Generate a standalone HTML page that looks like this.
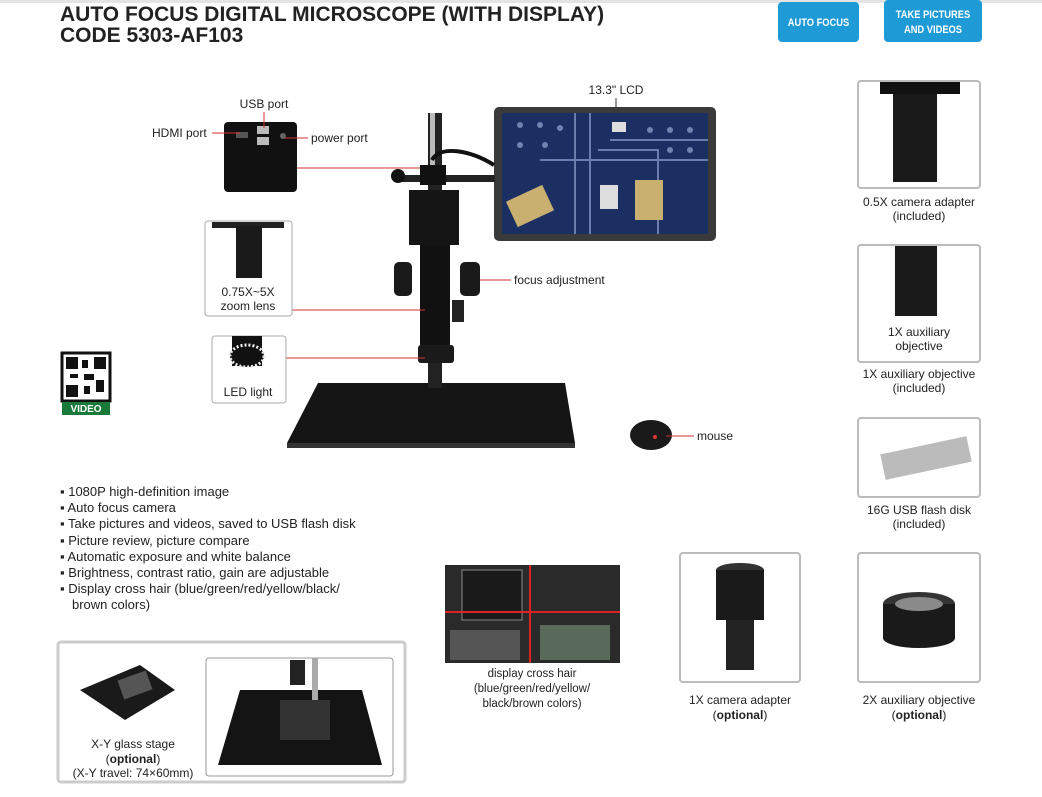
<!DOCTYPE html>
<html><head><meta charset="utf-8"><style>
html,body{margin:0;padding:0;background:#fff}
svg{display:block}
text{font-family:"Liberation Sans",Arial,sans-serif;fill:#222}
</style></head><body>
<svg width="1042" height="797" viewBox="0 0 1042 797" xmlns="http://www.w3.org/2000/svg">
<rect width="1042" height="797" fill="#fff"/>
<rect x="0" y="0" width="1042" height="3" fill="#e4e4e4"/>
<!-- title -->
<text x="60" y="21" font-size="21" font-weight="bold" fill="#1a1a1a">AUTO FOCUS DIGITAL MICROSCOPE (WITH DISPLAY)</text>
<text x="60" y="42" font-size="21" font-weight="bold" fill="#1a1a1a">CODE 5303-AF103</text>
<rect x="778" y="2" width="81" height="40" rx="4" fill="#1e9ad6"/>
<text x="818.5" y="26" font-size="11" font-weight="bold" style="fill:#fff" text-anchor="middle" transform="scale(0.85,1)" transform-origin="818.5 26">AUTO FOCUS</text>
<rect x="884" y="0" width="98" height="42" rx="4" fill="#1e9ad6"/>
<text x="933" y="18" font-size="11" font-weight="bold" style="fill:#fff" text-anchor="middle" transform="scale(0.85,1)" transform-origin="933 18">TAKE PICTURES</text>
<text x="933" y="33" font-size="11" font-weight="bold" style="fill:#fff" text-anchor="middle" transform="scale(0.85,1)" transform-origin="933 33">AND VIDEOS</text>

<!-- camera back -->
<rect x="224" y="122" width="73" height="70" rx="4" fill="#111"/>
<rect x="236" y="132" width="12" height="6" fill="#555"/>
<rect x="257" y="126" width="12" height="8" fill="#bbb"/><rect x="257" y="137" width="12" height="8" fill="#bbb"/>
<circle cx="283" cy="136" r="3" fill="#666"/>
<text x="264" y="108" font-size="12" text-anchor="middle">USB port</text>
<line x1="264" y1="112" x2="264" y2="128" stroke="#c33"/>
<text x="152" y="137" font-size="12">HDMI port</text>
<line x1="212" y1="133" x2="240" y2="133" stroke="#c33"/>
<text x="311" y="142" font-size="12">power port</text>
<line x1="285" y1="138" x2="308" y2="138" stroke="#c33"/>
<line x1="297" y1="168" x2="425" y2="168" stroke="#c33"/>

<!-- LCD -->
<text x="616" y="94" font-size="12" text-anchor="middle">13.3" LCD</text>
<line x1="616" y1="98" x2="616" y2="125" stroke="#333"/>
<rect x="494" y="107" width="222" height="134" rx="5" fill="#3a3a3a"/>
<rect x="502" y="113" width="206" height="121" fill="#1c2f63"/>
<g fill="none" stroke="#8aa0cc" stroke-width="2" opacity=".7">
<path d="M575 113 v121 M590 113 v121 M540 160 h168 M610 140 h98 M598 150 h60 v84"/>
</g>
<g fill="#6f84b0"><circle cx="520" cy="125" r="3"/><circle cx="540" cy="125" r="3"/><circle cx="560" cy="128" r="3"/><circle cx="520" cy="145" r="3"/><circle cx="545" cy="145" r="3"/><circle cx="650" cy="130" r="3"/><circle cx="670" cy="130" r="3"/><circle cx="690" cy="130" r="3"/><circle cx="670" cy="150" r="3"/><circle cx="690" cy="150" r="3"/></g>
<rect x="510" y="192" width="40" height="28" fill="#c9b070" transform="rotate(-25 530 206)"/>
<rect x="635" y="180" width="28" height="40" fill="#c9b070"/>
<rect x="600" y="185" width="18" height="24" fill="#ddd"/>
<rect x="612" y="122" width="14" height="10" fill="#ddd"/>

<!-- stand -->
<polygon points="318,383 565,383 575,443 287,443" fill="#151515"/>
<rect x="287" y="443" width="288" height="5" fill="#333"/>
<rect x="428" y="113" width="14" height="275" fill="#222"/>
<rect x="430" y="113" width="5" height="60" fill="#bbb"/>
<path d="M432 160 C440 145 470 150 494 165" stroke="#111" stroke-width="4" fill="none"/>
<rect x="400" y="175" width="95" height="7" fill="#222"/>
<circle cx="398" cy="176" r="7" fill="#111"/>
<rect x="420" y="165" width="26" height="20" fill="#111"/>
<rect x="409" y="190" width="50" height="55" fill="#151515"/>
<rect x="420" y="245" width="30" height="110" fill="#111"/>
<rect x="394" y="262" width="18" height="34" rx="5" fill="#1a1a1a"/>
<rect x="460" y="262" width="20" height="34" rx="5" fill="#1a1a1a"/>
<rect x="452" y="300" width="12" height="22" fill="#222"/>
<rect x="418" y="345" width="36" height="18" rx="3" fill="#1a1a1a"/>
<text x="514" y="284" font-size="12">focus adjustment</text>
<line x1="480" y1="280" x2="511" y2="280" stroke="#c33"/>
<line x1="291" y1="310" x2="425" y2="310" stroke="#c33"/>
<line x1="286" y1="358" x2="425" y2="358" stroke="#c33"/>

<!-- lens boxes -->
<rect x="205" y="221" width="87" height="95" rx="3" fill="#fff" stroke="#aaa"/>
<rect x="212" y="222" width="72" height="6" fill="#222"/>
<rect x="236" y="226" width="26" height="52" fill="#1a1a1a"/>
<text x="248" y="296" font-size="12" text-anchor="middle">0.75X~5X</text>
<text x="248" y="310" font-size="12" text-anchor="middle">zoom lens</text>
<rect x="212" y="336" width="74" height="67" rx="3" fill="#fff" stroke="#aaa"/>
<rect x="232" y="336" width="30" height="30" fill="#111"/>
<ellipse cx="247" cy="356" rx="17" ry="11" fill="#111" stroke="#eee" stroke-width="3" stroke-dasharray="2 2"/>
<text x="248" y="396" font-size="12" text-anchor="middle">LED light</text>

<!-- QR -->
<rect x="62" y="353" width="48" height="48" fill="#fff" stroke="#111" stroke-width="3"/>
<g fill="#111"><rect x="66" y="357" width="12" height="12"/><rect x="94" y="357" width="12" height="12"/><rect x="66" y="385" width="12" height="12"/><rect x="82" y="360" width="6" height="8"/><rect x="84" y="374" width="10" height="6"/><rect x="96" y="380" width="8" height="12"/><rect x="70" y="374" width="8" height="4"/><rect x="84" y="386" width="6" height="8"/></g>
<rect x="62" y="402" width="48" height="13" fill="#1a7a3a"/>
<text x="86" y="412" font-size="10" font-weight="bold" style="fill:#fff" text-anchor="middle">VIDEO</text>

<!-- mouse -->
<ellipse cx="651" cy="435" rx="21" ry="15" fill="#1a1a1a"/>
<circle cx="655" cy="437" r="2" fill="#d33"/>
<line x1="666" y1="436" x2="694" y2="436" stroke="#c33"/>
<text x="697" y="440" font-size="12">mouse</text>

<!-- bullets -->
<g font-size="13">
<text x="60" y="496">▪ 1080P high-definition image</text>
<text x="60" y="512">▪ Auto focus camera</text>
<text x="60" y="528">▪ Take pictures and videos, saved to USB flash disk</text>
<text x="60" y="545">▪ Picture review, picture compare</text>
<text x="60" y="561">▪ Automatic exposure and white balance</text>
<text x="60" y="577">▪ Brightness, contrast ratio, gain are adjustable</text>
<text x="60" y="593">▪ Display cross hair (blue/green/red/yellow/black/</text>
<text x="72" y="609">brown colors)</text>
</g>

<!-- cross hair -->
<rect x="445" y="565" width="175" height="98" fill="#2a2a2a"/>
<rect x="462" y="570" width="60" height="50" fill="#1a1a1a" stroke="#888"/>
<rect x="450" y="630" width="70" height="30" fill="#555"/>
<rect x="540" y="625" width="70" height="35" fill="#5a6a5a"/>
<line x1="530" y1="565" x2="530" y2="663" stroke="#d22" stroke-width="2"/>
<line x1="445" y1="612" x2="620" y2="612" stroke="#d22" stroke-width="2"/>
<text x="532" y="677" font-size="11.5" text-anchor="middle">display cross hair</text>
<text x="532" y="692" font-size="11.5" text-anchor="middle">(blue/green/red/yellow/</text>
<text x="532" y="707" font-size="11.5" text-anchor="middle">black/brown colors)</text>

<!-- bottom left box -->
<rect x="58" y="642" width="347" height="140" rx="3" fill="#fff" stroke="#ccc" stroke-width="3"/>
<polygon points="80,690 140,665 175,690 125,720" fill="#1a1a1a"/>
<rect x="120" y="675" width="30" height="20" fill="#555" transform="rotate(-20 135 685)"/>
<text x="133" y="748" font-size="12" text-anchor="middle">X-Y glass stage</text>
<text x="133" y="763" font-size="12" text-anchor="middle">(<tspan font-weight="bold">optional</tspan>)</text>
<text x="133" y="777" font-size="12" text-anchor="middle">(X-Y travel: 74×60mm)</text>
<rect x="206" y="658" width="187" height="118" rx="3" fill="#fff" stroke="#999"/>
<polygon points="240,690 362,690 382,765 218,765" fill="#141414"/>
<rect x="290" y="660" width="15" height="25" fill="#222"/>
<rect x="312" y="658" width="6" height="60" fill="#aaa"/>
<rect x="280" y="700" width="50" height="40" fill="#333"/>

<!-- right column -->
<rect x="858" y="81" width="122" height="107" rx="3" fill="#fff" stroke="#bbb" stroke-width="2"/>
<rect x="880" y="82" width="80" height="12" fill="#111"/>
<rect x="893" y="94" width="44" height="88" fill="#1a1a1a"/>
<text x="919" y="206" font-size="12" text-anchor="middle">0.5X camera adapter</text>
<text x="919" y="220" font-size="12" text-anchor="middle">(included)</text>
<rect x="858" y="245" width="122" height="117" rx="3" fill="#fff" stroke="#bbb" stroke-width="2"/>
<rect x="895" y="246" width="42" height="70" fill="#1a1a1a"/>
<text x="919" y="336" font-size="12" text-anchor="middle">1X auxiliary</text>
<text x="919" y="350" font-size="12" text-anchor="middle">objective</text>
<text x="919" y="378" font-size="12" text-anchor="middle">1X auxiliary objective</text>
<text x="919" y="392" font-size="12" text-anchor="middle">(included)</text>
<rect x="858" y="418" width="122" height="79" rx="3" fill="#fff" stroke="#bbb" stroke-width="2"/>
<rect x="882" y="445" width="88" height="26" fill="#bbb" transform="rotate(-12 926 458)"/>
<text x="919" y="514" font-size="12" text-anchor="middle">16G USB flash disk</text>
<text x="919" y="528" font-size="12" text-anchor="middle">(included)</text>
<rect x="858" y="553" width="122" height="129" rx="3" fill="#fff" stroke="#bbb" stroke-width="2"/>
<ellipse cx="919" cy="604" rx="36" ry="12" fill="#333"/>
<rect x="883" y="604" width="72" height="34" fill="#1a1a1a"/>
<ellipse cx="919" cy="638" rx="36" ry="10" fill="#1a1a1a"/>
<ellipse cx="919" cy="604" rx="24" ry="7" fill="#8a8a8a"/>
<text x="919" y="704" font-size="12" text-anchor="middle">2X auxiliary objective</text>
<text x="919" y="719" font-size="12" text-anchor="middle">(<tspan font-weight="bold">optional</tspan>)</text>
<rect x="680" y="553" width="120" height="129" rx="3" fill="#fff" stroke="#bbb" stroke-width="2"/>
<ellipse cx="740" cy="570" rx="24" ry="7" fill="#333"/>
<rect x="716" y="570" width="48" height="50" fill="#1a1a1a"/>
<rect x="726" y="620" width="28" height="50" fill="#222"/>
<text x="740" y="704" font-size="12" text-anchor="middle">1X camera adapter</text>
<text x="740" y="719" font-size="12" text-anchor="middle">(<tspan font-weight="bold">optional</tspan>)</text>
</svg>
</body></html>
